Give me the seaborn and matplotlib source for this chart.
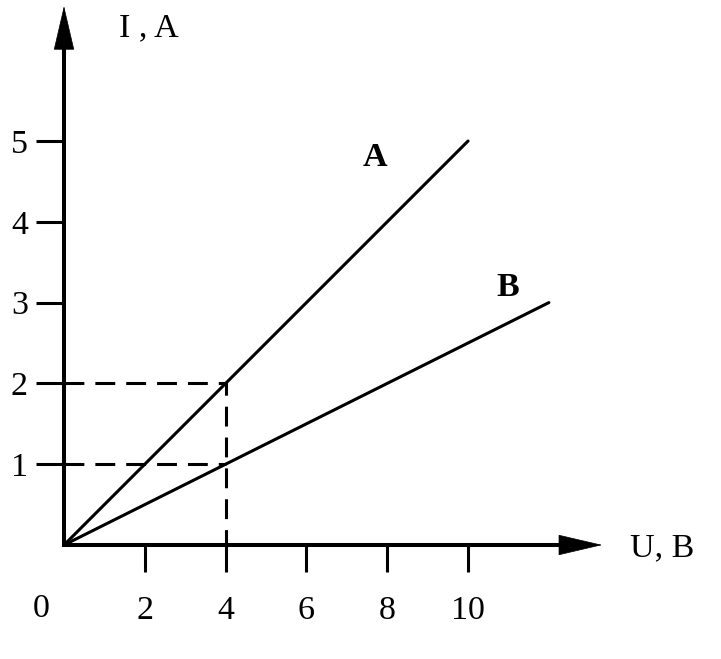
import matplotlib.pyplot as plt
import seaborn as sns

# data
u_a = [0, 10]
i_a = [0, 5]
u_b = [0, 12]
i_b = [0, 3]
guide2_u = [0, 4, 4]
guide2_i = [2, 2, 0]
guide1_u = [0, 4]
guide1_i = [1, 1]
x_ticks = [2, 4, 6, 8, 10]
y_ticks = [1, 2, 3, 4, 5]

sns.set_style("white")
plt.rcParams['font.family'] = ['Liberation Serif', 'DejaVu Serif']
plt.rcParams['text.color'] = 'black'

fig = plt.figure(figsize=(7.21, 6.59), dpi=100)
ax = fig.add_axes([0, 0, 1, 1])
ax.set_xlim(-1.584, 16.26)
ax.set_ylim(-1.411, 6.745)

# axes through the origin, with arrow heads
for side in ['top', 'right']:
    ax.spines[side].set_visible(False)
for side in ['left', 'bottom']:
    ax.spines[side].set_position(('data', 0))
    ax.spines[side].set_color('black')
    ax.spines[side].set_linewidth(2.9)
ax.spines['bottom'].set_bounds(0, 12.3)
ax.spines['left'].set_bounds(0, 6.15)

head = dict(arrowstyle='-|>,head_length=3.0,head_width=0.7', mutation_scale=10,
            color='black', lw=0.5, shrinkA=0, shrinkB=0)
ax.annotate('', xy=(13.32, 0), xytext=(12.2, 0), arrowprops=head)
ax.annotate('', xy=(0, 6.67), xytext=(0, 6.1), arrowprops=head)

ax.set_xticks(x_ticks)
ax.set_yticks(y_ticks)
ax.tick_params(axis='x', direction='out', length=19.5, width=2.2, color='black',
               labelcolor='black', labelsize=24.5, pad=17, bottom=True)
ax.tick_params(axis='y', direction='out', length=20, width=2.2, color='black',
               labelcolor='black', labelsize=24.5, pad=6, left=True)
ax.grid(False)

# lines
sns.lineplot(x=u_a, y=i_a, ax=ax, color='black', lw=2.2, estimator=None, sort=False)
sns.lineplot(x=u_b, y=i_b, ax=ax, color='black', lw=2.2, estimator=None, sort=False)
sns.lineplot(x=guide2_u, y=guide2_i, ax=ax, color='black', lw=2.2, estimator=None,
             sort=False, linestyle=(0, (6.5, 3.6)))
sns.lineplot(x=guide1_u, y=guide1_i, ax=ax, color='black', lw=2.2, estimator=None,
             sort=False, linestyle=(0, (6.5, 3.6)))

# labels
ax.text(-0.57, -0.79, '0', fontsize=24.5, ha='center', va='center')
ax.text(2.10, 6.40, 'I , A', fontsize=24.5, ha='center', va='center')
ax.text(14.80, -0.04, 'U, B', fontsize=24.5, ha='center', va='center')
ax.text(7.70, 4.80, 'A', fontsize=24.5, fontweight='bold', ha='center', va='center')
ax.text(10.99, 3.19, 'B', fontsize=24.5, fontweight='bold', ha='center', va='center')

fig.savefig('out.png', dpi=100, facecolor='white')
